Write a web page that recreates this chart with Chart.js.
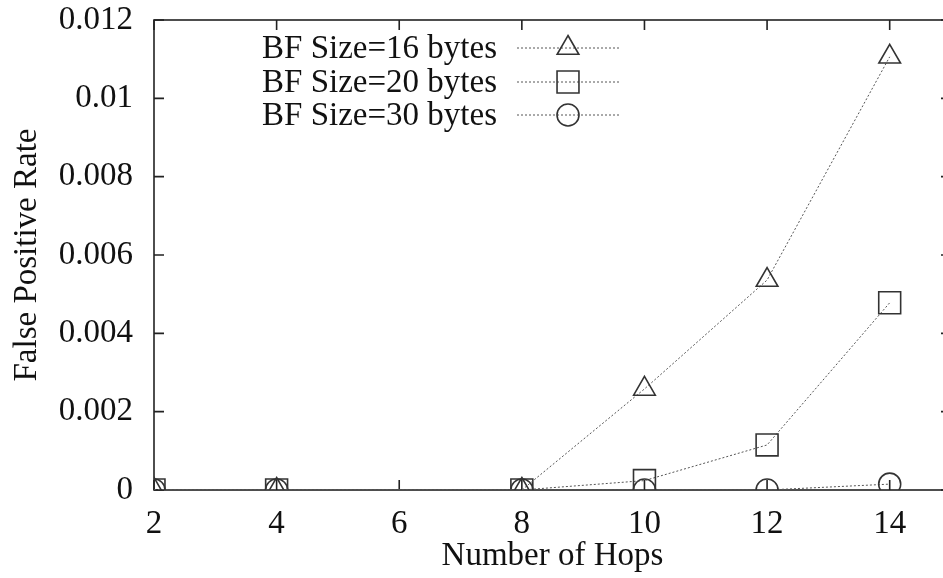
<!DOCTYPE html>
<html>
<head>
<meta charset="utf-8">
<script src="https://cdn.jsdelivr.net/npm/chart.js@4/dist/chart.umd.min.js"></script>
<style>
  html, body { margin: 0; padding: 0; background: #fff; overflow: hidden; }
  #c { position: absolute; left: 0; top: 0; }
</style>
</head>
<body>
<canvas id="c" width="969" height="578" style="width:969px;height:578px"></canvas>
<script>
// ---- data ----
const hops = [2, 4, 8, 10, 12, 14];
const bf16 = [0, 0, 0, 0.00258, 0.00536, 0.01106];
const bf20 = [0, 0, 0, 0.00024, 0.00115, 0.00478];
const bf30 = [0, 0, 0, 0, 0, 0.00015];
const seriesNames = ['BF Size=16 bytes', 'BF Size=20 bytes', 'BF Size=30 bytes'];
const xTicks = [2, 4, 6, 8, 10, 12, 14];
const yTicks = [0, 0.002, 0.004, 0.006, 0.008, 0.01, 0.012];
const yTickLabels = ['0', '0.002', '0.004', '0.006', '0.008', '0.01', '0.012'];
const xTitle = 'Number of Hops';
const yTitle = 'False Positive Rate';

const FONT = "'Liberation Serif', 'Times New Roman', serif";
const FS = 33;
const TEXT = '#111';
const LINE = '#555';
const MARK = '#333';

Chart.defaults.font.family = FONT;
Chart.defaults.font.size = FS;
Chart.defaults.color = TEXT;

function pts(ys) { return hops.map((x, i) => ({ x: x, y: ys[i] })); }

const styles = [
  { pointStyle: 'triangle', r: 12.5 },
  { pointStyle: 'rect', r: 15.5 },
  { pointStyle: 'circle', r: 11 }
];

function drawMarker(ctx, style, r, x, y) {
  ctx.beginPath();
  if (style === 'triangle') {
    const w = r * Math.sin(Math.PI / 3);
    ctx.moveTo(x, y - r);
    ctx.lineTo(x + w, y + r / 2);
    ctx.lineTo(x - w, y + r / 2);
    ctx.closePath();
  } else if (style === 'rect') {
    const s = Math.SQRT1_2 * r;
    ctx.rect(x - s, y - s, 2 * s, 2 * s);
  } else {
    ctx.arc(x, y, r, 0, Math.PI * 2);
  }
  ctx.stroke();
}

const framePlugin = {
  id: 'frame',
  beforeDatasetsDraw(chart) {
    const { ctx, chartArea: a, scales } = chart;
    ctx.save();
    ctx.strokeStyle = '#222';
    ctx.lineWidth = 1.6;
    ctx.strokeRect(a.left, a.top, a.right - a.left, a.bottom - a.top);
    const tl = 10;
    ctx.beginPath();
    xTicks.forEach(v => {
      const px = scales.x.getPixelForValue(v);
      ctx.moveTo(px, a.bottom); ctx.lineTo(px, a.bottom - tl);
      ctx.moveTo(px, a.top); ctx.lineTo(px, a.top + tl);
    });
    yTicks.forEach(v => {
      const py = scales.y.getPixelForValue(v);
      ctx.moveTo(a.left, py); ctx.lineTo(a.left + tl, py);
      ctx.moveTo(a.right, py); ctx.lineTo(a.right - tl, py);
    });
    ctx.stroke();
    ctx.restore();
  },
  afterDatasetsDraw(chart) {
    const { ctx } = chart;
    const rows = [48, 82, 115];
    ctx.save();
    ctx.font = FS + 'px ' + FONT;
    ctx.fillStyle = TEXT;
    ctx.textAlign = 'right';
    ctx.textBaseline = 'middle';
    chart.data.datasets.forEach((ds, i) => {
      const y = rows[i];
      ctx.fillText(ds.label, 497, y + 1);
      ctx.strokeStyle = LINE;
      ctx.lineWidth = 1;
      ctx.setLineDash([2, 2]);
      ctx.beginPath();
      ctx.moveTo(517, y); ctx.lineTo(620, y);
      ctx.stroke();
      ctx.setLineDash([]);
      ctx.strokeStyle = MARK;
      ctx.lineWidth = 1.6;
      drawMarker(ctx, styles[i].pointStyle, styles[i].r, 568, y);
    });
    ctx.restore();
  }
};

const datasets = [bf16, bf20, bf30].map((ys, i) => ({
  label: seriesNames[i],
  data: pts(ys),
  borderColor: LINE,
  borderWidth: 1,
  borderDash: [2, 2],
  fill: false,
  tension: 0,
  pointStyle: styles[i].pointStyle,
  pointRadius: styles[i].r,
  pointHoverRadius: styles[i].r,
  pointBorderColor: MARK,
  pointBorderWidth: 1.6,
  pointBackgroundColor: 'rgba(0,0,0,0)'
}));

new Chart(document.getElementById('c'), {
  type: 'line',
  data: { datasets },
  plugins: [framePlugin],
  options: {
    responsive: false,
    maintainAspectRatio: false,
    devicePixelRatio: 1,
    animation: false,
    layout: { padding: { top: 20, right: 18, left: 0, bottom: 0 } },
    plugins: { legend: { display: false }, tooltip: { enabled: false } },
    scales: {
      x: {
        type: 'linear',
        min: 2,
        max: 15,
        afterBuildTicks(scale) { scale.ticks = xTicks.map(v => ({ value: v })); },
        afterFit(scale) { scale.height = 88; scale.paddingLeft = 0; scale.paddingRight = 0; },
        grid: { display: false, drawTicks: false },
        border: { display: false },
        ticks: { padding: 15, color: TEXT, font: { size: FS }, maxRotation: 0, autoSkip: false },
        title: { display: true, text: xTitle, color: TEXT, font: { size: FS }, padding: { top: 0, bottom: 2 } }
      },
      y: {
        type: 'linear',
        min: 0,
        max: 0.012,
        afterBuildTicks(scale) { scale.ticks = yTicks.map(v => ({ value: v })); },
        afterFit(scale) { scale.width = 154; scale.paddingTop = 0; scale.paddingBottom = 0; },
        grid: { display: false, drawTicks: false },
        border: { display: false },
        ticks: {
          padding: 21, color: TEXT, font: { size: FS }, autoSkip: false,
          callback: (v, i) => yTickLabels[i]
        },
        title: { display: true, text: yTitle, color: TEXT, font: { size: FS }, padding: { top: 8, bottom: 0 } }
      }
    }
  }
});
</script>
</body>
</html>
